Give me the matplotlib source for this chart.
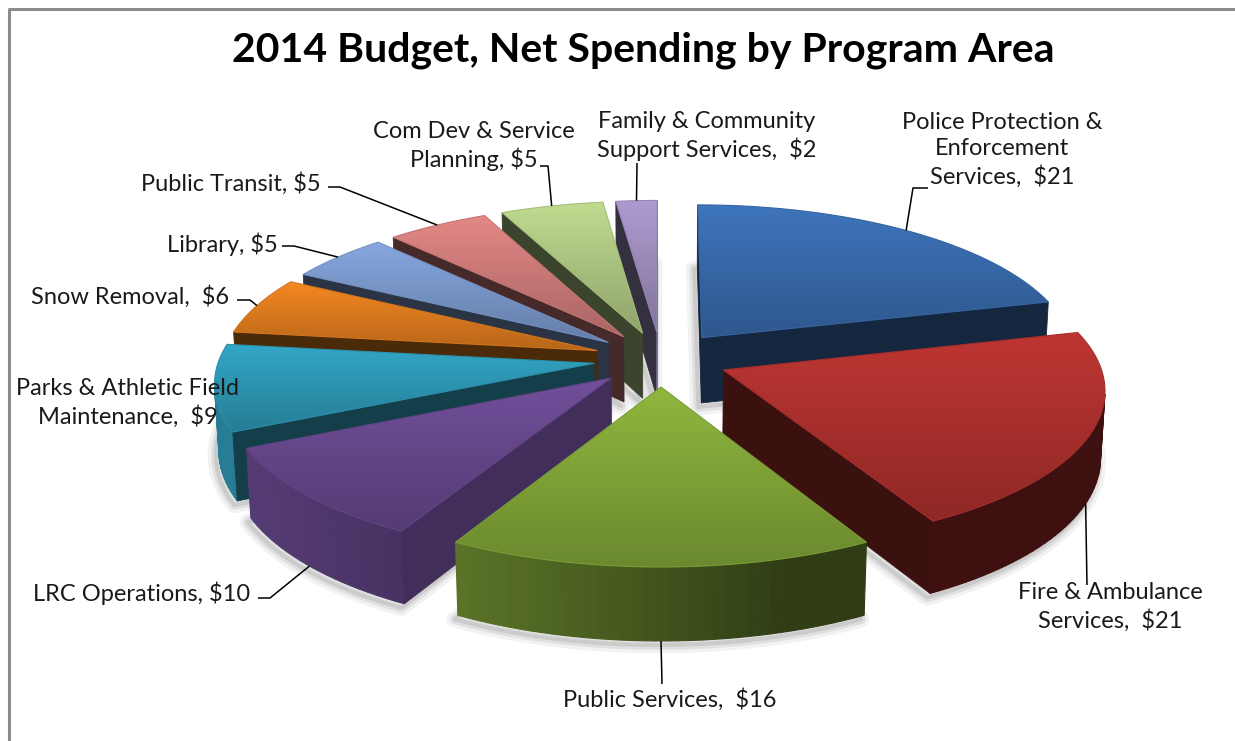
import numpy as np
import matplotlib.pyplot as plt
from matplotlib.patches import Polygon
from matplotlib.colors import to_rgb

plt.rcParams['font.family'] = ['Lato', 'DejaVu Sans']

TITLE = "2014 Budget, Net Spending by Program Area"

# net spending per program area ($M), clockwise from 12 o'clock
programs = ["Police Protection & Enforcement Services", "Fire & Ambulance Services",
            "Public Services", "LRC Operations", "Parks & Athletic Field Maintenance",
            "Snow Removal", "Library", "Public Transit", "Com Dev & Service Planning",
            "Family & Community Support Services"]
spending = [21, 21, 16, 10, 9, 6, 5, 5, 5, 2]
label_fmt = ["Police Protection &\nEnforcement\nServices,  ${}",
             "Fire & Ambulance\nServices,  ${}",
             "Public Services,  ${}",
             "LRC Operations, ${}",
             "Parks & Athletic Field\nMaintenance,  ${}",
             "Snow Removal,  ${}",
             "Library, ${}",
             "Public Transit, ${}",
             "Com Dev & Service\nPlanning, ${}",
             "Family & Community\nSupport Services,  ${}"]
colors = ["#3A6DB0", "#B2322F", "#86AB3A", "#6A4A91", "#2F9CBA",
          "#E47F1F", "#7E9DD1", "#D47F7D", "#B3CD86", "#A291C2"]

# label centres (px) and the label end of each leader line
label_pos = [(1002, 150), (1110, 607), (670, 700), (142, 593), (128, 403),
             (130, 297), (222, 244), (231, 184), (474, 146), (707, 136)]
leader_tail = [[(913, 188), (928, 188)], [(1087, 585)], [(662, 684)],
               [(270, 598), (258, 598)], None, [(250, 300), (237, 300)],
               [(294, 246), (282, 246)], [(340, 187), (328, 187)],
               [(548, 166), (540, 166)], [(637, 163)]]

# 3-D view
ALPHA = np.radians(24)
DIST = 8.0
FOCAL = 3000.0
CX, CY = 661.0, 359.0
HEIGHT = 0.195
EXPLODE = 0.18
sa, ca = np.sin(ALPHA), np.cos(ALPHA)
CAM = np.array([0.0, -DIST * ca, DIST * sa])
LIGHT = np.array([-0.95, -0.3]) / np.hypot(0.95, 0.3)
CUT_LIGHT = np.array([np.cos(np.radians(-10)), np.sin(np.radians(-10))])


def project(X, Y, Z):
    X, Y, Z = np.asarray(X, float), np.asarray(Y, float), np.asarray(Z, float)
    yc = Y * sa + Z * ca
    zc = DIST + Y * ca - Z * sa
    return CX + FOCAL * X / zc, CY - FOCAL * yc / zc


def shade(c, f):
    return tuple(np.clip(np.array(to_rgb(c)) * f, 0, 1))


def facing(normal, point):
    return np.dot(normal, np.asarray(point) - CAM) < 0


fig = plt.figure(figsize=(12.35, 7.41), dpi=100)
ax = fig.add_axes([0, 0, 1, 1])

total = float(sum(spending))
wedges = []
start = 90.0
for i, v in enumerate(spending):
    hi = start
    lo = start - v / total * 360.0
    start = lo
    mid = np.radians((hi + lo) / 2)
    ox, oy = EXPLODE * np.cos(mid), EXPLODE * np.sin(mid)
    depth = DIST + (oy + 0.6 * np.sin(mid)) * ca
    wedges.append(dict(i=i, lo=np.radians(lo), hi=np.radians(hi), mid=mid,
                       ox=ox, oy=oy, depth=depth))

# soft shadow under each slice
for w in wedges:
    t = np.linspace(w['lo'], w['hi'], 60)
    xs = np.r_[w['ox'], w['ox'] + np.cos(t)]
    ys = np.r_[w['oy'], w['oy'] + np.sin(t)]
    u, vv = project(xs, ys, np.full_like(xs, -HEIGHT))
    for lw, a in ((12, 0.05), (7, 0.07), (3, 0.09)):
        ax.add_patch(Polygon(np.c_[u - 3, vv + 4], closed=True, facecolor='none',
                             edgecolor='black', alpha=a, lw=lw, joinstyle='round',
                             zorder=5))

z = 10
for w in sorted(wedges, key=lambda d: -d['depth']):
    col = colors[w['i']]
    ox, oy, lo, hi = w['ox'], w['oy'], w['lo'], w['hi']
    t = np.linspace(lo, hi, max(8, int(np.degrees(hi - lo) / 1.5)))

    # curved outer wall, split into strips so each can be lit on its own
    for a0, a1 in zip(t[:-1], t[1:]):
        am = (a0 + a1) / 2
        n = np.array([np.cos(am), np.sin(am), 0.0])
        p = np.array([ox + np.cos(am), oy + np.sin(am), -HEIGHT / 2])
        if not facing(n, p):
            continue
        xs = ox + np.cos([a0, a1, a1, a0])
        ys = oy + np.sin([a0, a1, a1, a0])
        zs = [0, 0, -HEIGHT, -HEIGHT]
        u, vv = project(xs, ys, zs)
        f = 0.35 + 0.45 * max(0.0, np.dot(n[:2], LIGHT))
        c = shade(col, f)
        ax.add_patch(Polygon(np.c_[u, vv], closed=True, facecolor=c,
                             edgecolor=c, lw=0.8, zorder=z))
    z += 1

    # flat cut faces
    for ang, n2 in ((hi, (-np.sin(hi), np.cos(hi))), (lo, (np.sin(lo), -np.cos(lo)))):
        n = np.array([n2[0], n2[1], 0.0])
        p = np.array([ox + 0.5 * np.cos(ang), oy + 0.5 * np.sin(ang), -HEIGHT / 2])
        if not facing(n, p):
            continue
        xs = [ox, ox + np.cos(ang), ox + np.cos(ang), ox]
        ys = [oy, oy + np.sin(ang), oy + np.sin(ang), oy]
        zs = [0, 0, -HEIGHT, -HEIGHT]
        u, vv = project(xs, ys, zs)
        f = 0.33 + 0.35 * max(0.0, np.dot(n[:2], CUT_LIGHT)) ** 3
        c = shade(col, f)
        ax.add_patch(Polygon(np.c_[u, vv], closed=True, facecolor=c,
                             edgecolor=c, lw=0.6, zorder=z))
        z += 1

    # top face with a vertical gradient
    xs = np.r_[ox, ox + np.cos(t)]
    ys = np.r_[oy, oy + np.sin(t)]
    u, vv = project(xs, ys, np.zeros_like(xs))
    poly = Polygon(np.c_[u, vv], closed=True, facecolor='none',
                   edgecolor=shade(col, 0.92), lw=0.8, zorder=z + 0.5)
    ax.add_patch(poly)
    top_c = np.array(shade(col, 1.07))
    bot_c = np.array(shade(col, 0.8))
    k = np.linspace(0, 1, 64)[:, None, None]
    grad = top_c[None, None, :] * (1 - k) + bot_c[None, None, :] * k
    grad = np.repeat(grad, 2, axis=1)
    im = ax.imshow(grad, extent=(u.min(), u.max(), vv.max(), vv.min()),
                   origin='upper', interpolation='bilinear', aspect='auto', zorder=z)
    im.set_clip_path(poly)
    z += 1

    w['anchor'] = (ox + np.cos(w['mid']), oy + np.sin(w['mid']))

# data labels with leader lines
for w in wedges:
    i = w['i']
    ax.text(label_pos[i][0], label_pos[i][1], label_fmt[i].format(spending[i]),
            ha='center', va='center', fontsize=17, color='#1a1a1a',
            linespacing=1.3, zorder=200)
    if leader_tail[i] is None:
        continue
    ax_, ay_ = w['anchor']
    zz = -HEIGHT if np.sin(w['mid']) < 0 else 0.0
    u0, v0 = project(ax_, ay_, zz)
    pts = [(float(u0), float(v0))] + leader_tail[i]
    ax.plot([p[0] for p in pts], [p[1] for p in pts], color='black', lw=1.1,
            zorder=150, solid_capstyle='butt')

ax.text(643, 50, TITLE, ha='center', va='center', fontsize=29.5,
        fontweight='bold', color='black', zorder=200)

# chart area border
ax.plot([9, 9, 1235], [741, 9, 9], color='#8c8c8c', lw=2.2, zorder=300)

ax.set_xlim(0, 1235)
ax.set_ylim(741, 0)
ax.axis('off')
fig.savefig('out.png', dpi=100, facecolor='white')
